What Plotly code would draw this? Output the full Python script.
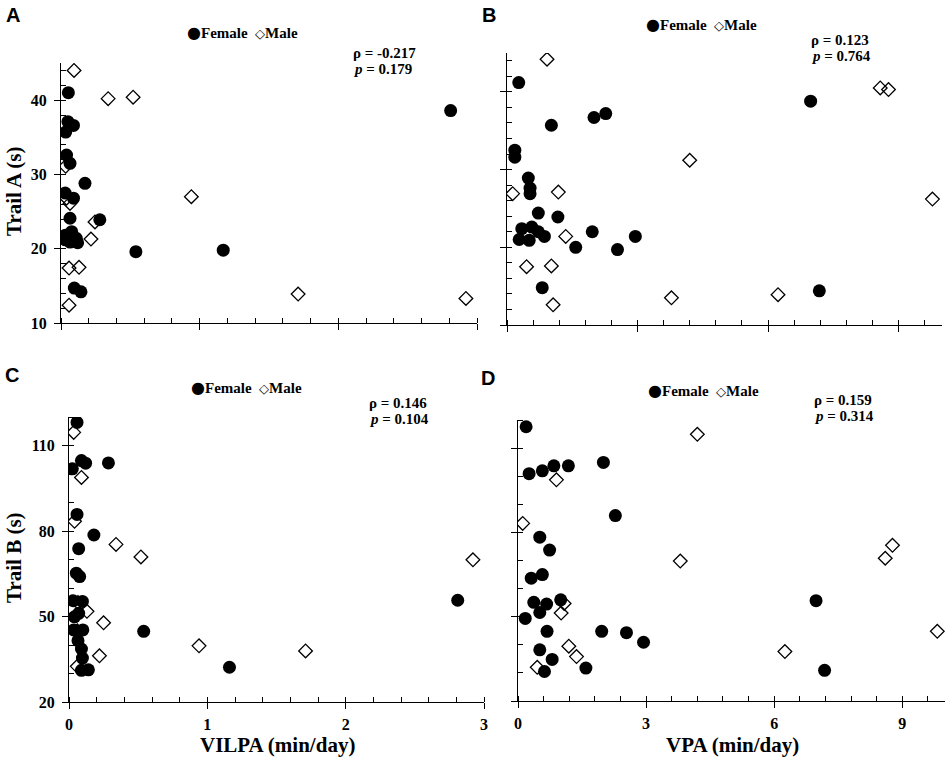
import plotly.graph_objects as go

# ---------------- data ----------------
# Panel A: VILPA vs Trail A
a_f_x = [0.053, 0.05, 0.09, 0.034, 0.04, 0.065, 0.03, 0.09, 0.173, 0.065, 0.28, 0.03, 0.077, 0.11, 0.065, 0.03, 0.12, 0.54, 1.17, 0.096, 0.144, 2.81]
a_f_y = [41.0, 37.1, 36.6, 35.7, 32.6, 31.5, 27.5, 26.8, 28.8, 24.1, 23.9, 21.8, 22.3, 21.4, 20.9, 21.2, 20.8, 19.6, 19.8, 14.7, 14.2, 38.6]
a_m_x = [0.094, 0.34, 0.52, 0.034, 0.04, 0.065, 0.94, 0.245, 0.216, 0.058, 0.13, 0.058, 1.71, 2.92]
a_m_y = [44.0, 40.2, 40.4, 31.1, 26.8, 26.1, 27.0, 23.6, 21.3, 17.4, 17.5, 12.4, 13.9, 13.3]

# Panel B: VPA vs Trail A
b_f_x = [0.27, 1.02, 2.0, 2.27, 0.18, 0.18, 0.49, 0.53, 0.53, 0.72, 1.17, 0.34, 0.57, 0.72, 0.86, 0.28, 0.51, 1.58, 1.96, 2.54, 2.95, 0.81, 6.98, 7.18]
b_f_y = [41.2, 35.7, 36.7, 37.2, 32.5, 31.6, 28.9, 27.6, 26.9, 24.4, 23.9, 22.4, 22.6, 22.0, 21.4, 21.0, 20.9, 20.0, 22.0, 19.7, 21.4, 14.8, 38.8, 14.4]
b_m_x = [0.92, 8.58, 8.77, 4.2, 0.13, 1.18, 9.78, 1.35, 0.45, 1.02, 1.06, 3.78, 6.23]
b_m_y = [44.2, 40.5, 40.3, 31.2, 26.9, 27.1, 26.2, 21.4, 17.5, 17.6, 12.6, 13.5, 13.9]

# Panel C: VILPA vs Trail B
c_f_x = [0.058, 0.024, 0.09, 0.12, 0.285, 0.058, 0.18, 0.07, 0.053, 0.077, 0.03, 0.097, 0.04, 0.07, 0.034, 0.10, 0.065, 0.09, 0.097, 0.09, 0.14, 0.54, 1.16, 2.81]
c_f_y = [118.1, 101.8, 104.7, 103.8, 103.9, 85.8, 78.6, 73.8, 65.2, 64.0, 55.5, 55.3, 49.9, 51.1, 45.3, 45.3, 41.5, 38.6, 35.4, 31.1, 31.3, 44.8, 32.2, 55.7]
c_m_x = [0.034, 0.09, 0.04, 0.34, 0.52, 2.92, 0.065, 0.13, 0.25, 0.06, 0.94, 1.71, 0.22, 0.06]
c_m_y = [114.6, 98.8, 83.4, 75.3, 70.9, 69.9, 54.9, 51.8, 47.8, 45.0, 39.7, 37.9, 36.2, 32.5]

# Panel D: VPA vs Trail B
d_f_x = [0.19, 0.26, 0.57, 0.84, 1.18, 2.0, 2.28, 0.51, 0.74, 0.31, 0.57, 0.37, 0.67, 1.0, 0.51, 0.17, 0.68, 1.96, 2.54, 2.94, 0.51, 0.80, 0.62, 1.59, 6.98, 7.18]
d_f_y = [117.6, 100.9, 101.9, 103.7, 103.7, 104.9, 86.0, 78.3, 73.7, 63.7, 65.0, 55.1, 54.5, 56.0, 51.5, 49.4, 44.8, 44.8, 44.3, 40.9, 38.2, 34.8, 30.5, 31.7, 55.7, 30.9]
d_m_x = [4.2, 0.9, 0.11, 8.77, 8.6, 3.8, 1.08, 1.01, 9.82, 1.19, 1.37, 6.25, 0.45]
d_m_y = [114.9, 98.7, 83.2, 75.4, 70.8, 69.8, 54.7, 51.3, 44.8, 39.5, 35.8, 37.6, 32.0]

panel_letters = ["A", "B", "C", "D"]
rho_text = ["ρ = -0.217", "ρ = 0.123", "ρ = 0.146", "ρ = 0.159"]
p_text = ["0.179", "0.764", "0.104", "0.314"]
x_titles = ["VILPA (min/day)", "VPA (min/day)"]
y_titles = ["Trail A (s)", "Trail B (s)"]
series_names = ["Female", "Male"]

# ---------------- layout geometry ----------------
W, H = 948, 761
def px(x):
    return x / W
def py(y):
    return 1 - y / H

SERIF = "Liberation Serif"
SANS = "Liberation Sans"

fig = go.Figure()

panels = [
    dict(fx=a_f_x, fy=a_f_y, mx=a_m_x, my=a_m_y, xa="x", ya="y"),
    dict(fx=b_f_x, fy=b_f_y, mx=b_m_x, my=b_m_y, xa="x2", ya="y2"),
    dict(fx=c_f_x, fy=c_f_y, mx=c_m_x, my=c_m_y, xa="x3", ya="y3"),
    dict(fx=d_f_x, fy=d_f_y, mx=d_m_x, my=d_m_y, xa="x4", ya="y4"),
]

for p in panels:
    fig.add_trace(go.Scatter(
        x=p["fx"], y=p["fy"], mode="markers", name=series_names[0],
        xaxis=p["xa"], yaxis=p["ya"], showlegend=False,
        marker=dict(symbol="circle", size=13, color="black", line=dict(width=0)),
    ))
    fig.add_trace(go.Scatter(
        x=p["mx"], y=p["my"], mode="markers", name=series_names[1],
        xaxis=p["xa"], yaxis=p["ya"], showlegend=False,
        marker=dict(symbol="diamond-open", size=10.5, color="black", line=dict(width=1.3, color="black")),
    ))

tickfont = dict(family=SERIF, size=16, color="black", weight="bold")

def xaxis(dom, rng, dtick, mdtick, labels, anchor):
    return dict(domain=dom, range=rng, dtick=dtick, tick0=0, anchor=anchor, automargin=False,
                showline=True, linecolor="black", linewidth=1, showgrid=False, zeroline=False,
                ticks="outside", ticklen=6, tickwidth=1, tickcolor="black",
                showticklabels=labels, tickfont=tickfont, ticklabelstandoff=2,
                minor=dict(dtick=mdtick, tick0=0, ticks="inside", ticklen=5, tickwidth=1, tickcolor="black", showgrid=False))

def yaxis(dom, rng, dtick, tick0, mdtick, labels, anchor):
    return dict(domain=dom, range=rng, dtick=dtick, tick0=tick0, anchor=anchor, automargin=False,
                showline=True, linecolor="black", linewidth=1, showgrid=False, zeroline=False,
                ticks="outside", ticklen=6, tickwidth=1, tickcolor="black",
                showticklabels=labels, tickfont=tickfont, ticklabelstandoff=4,
                minor=dict(dtick=mdtick, tick0=tick0, ticks="inside", ticklen=5, tickwidth=1, tickcolor="black", showgrid=False))

# pixel boxes of the four plot areas (left, right, top, bottom)
boxA = (61, 477, 63, 323)
boxB = (507, 942, 53, 325)
boxC = (69, 484, 417, 702)
boxD = (518, 945, 420, 701)

def xd(b):
    return [px(b[0]), px(b[1])]
def yd(b):
    return [py(b[3]), py(b[2])]

fig.update_layout(
    width=W, height=H, autosize=False,
    margin=dict(l=0, r=0, t=0, b=0, autoexpand=False),
    paper_bgcolor="white", plot_bgcolor="white",
    font=dict(family=SERIF, color="black"),
    showlegend=False,
    xaxis=xaxis(xd(boxA), [0, 3], 1, 0.2, False, "y"),
    yaxis=yaxis(yd(boxA), [10, 45], 10, 10, 2, True, "x"),
    xaxis2=xaxis(xd(boxB), [0, 10], 3, 0.6, False, "y2"),
    yaxis2=yaxis(yd(boxB), [10, 45], 10, 10, 2, False, "x2"),
    xaxis3=xaxis(xd(boxC), [0, 3], 1, 0.2, True, "y3"),
    yaxis3=yaxis(yd(boxC), [20, 120], 30, 20, 10, True, "x3"),
    xaxis4=xaxis(xd(boxD), [0, 10], 3, 0.6, True, "y4"),
    yaxis4=yaxis(yd(boxD), [20, 120], 30, 20, 10, False, "x4"),
)

ann = []
# panel letters
for letter, (x, y) in zip(panel_letters, [(13, 15), (489, 15), (12, 375), (488, 378)]):
    ann.append(dict(text=f"<b>{letter}</b>", x=px(x), y=py(y), xref="paper", yref="paper",
                    xanchor="center", yanchor="middle", showarrow=False,
                    font=dict(family=SANS, size=20, color="black")))
# legend keys (one per panel)
legend_text = (f"<b><span style='font-family:DejaVu Sans;font-size:16px'>●</span>{series_names[0]}&nbsp; "
               f"<span style='font-family:DejaVu Sans;font-size:13px'>◇</span>{series_names[1]}</b>")
for (x, y) in [(242, 33), (701, 24), (246, 387), (703, 390)]:
    ann.append(dict(text=legend_text, x=px(x), y=py(y), xref="paper", yref="paper",
                    xanchor="center", yanchor="middle", showarrow=False,
                    font=dict(family=SERIF, size=15, color="black")))
# statistics
stat_pos = [(351, 53, 69), (809, 40, 56), (367, 403, 419), (812, 400, 416)]
for r, pv, (x, y1, y2) in zip(rho_text, p_text, stat_pos):
    ann.append(dict(text=f"<b>{r}</b>", x=px(x), y=py(y1), xref="paper", yref="paper",
                    xanchor="left", yanchor="middle", showarrow=False,
                    font=dict(family=SERIF, size=15, color="black")))
    ann.append(dict(text=f"<b><i>p</i> = {pv}</b>", x=px(x), y=py(y2), xref="paper", yref="paper",
                    xanchor="left", yanchor="middle", showarrow=False,
                    font=dict(family=SERIF, size=15, color="black")))
# axis titles
for t, (x, y) in zip(y_titles, [(14, 192), (14, 558)]):
    ann.append(dict(text=f"<b>{t}</b>", x=px(x), y=py(y), xref="paper", yref="paper",
                    xanchor="center", yanchor="middle", showarrow=False, textangle=-90,
                    font=dict(family=SERIF, size=21, color="black")))
for t, (x, y) in zip(x_titles, [(277, 745), (732, 745)]):
    ann.append(dict(text=f"<b>{t}</b>", x=px(x), y=py(y), xref="paper", yref="paper",
                    xanchor="center", yanchor="middle", showarrow=False,
                    font=dict(family=SERIF, size=21, color="black")))
fig.update_layout(annotations=ann)

fig.write_html("out.html", config={"displayModeBar": False},
               post_script="document.body.style.margin='0';document.body.style.overflow='hidden';")
